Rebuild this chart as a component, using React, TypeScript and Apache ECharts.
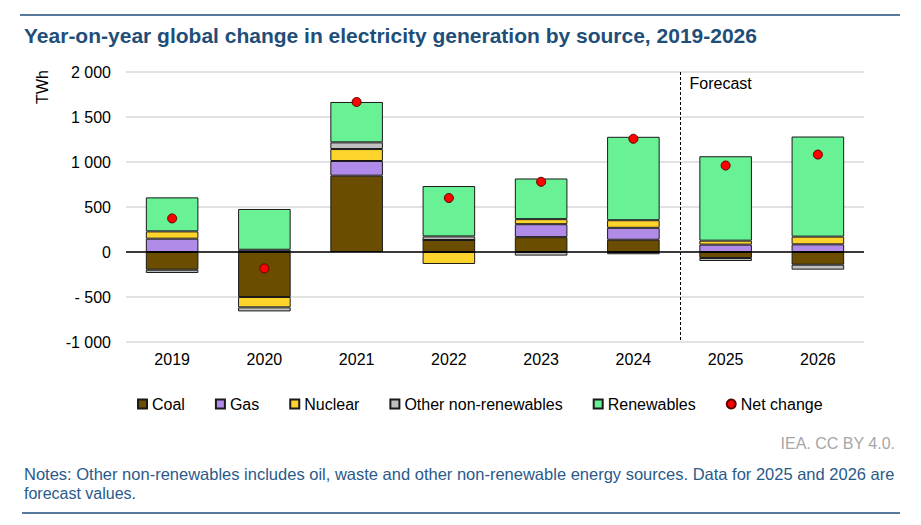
import { useEffect, useRef } from "react";
import * as echarts from "echarts";

const YEARS = ["2019", "2020", "2021", "2022", "2023", "2024", "2025", "2026"];
const COAL = [-197, -500, 848, 133, 165, 136, -67, -141];
const GAS = [148, 25, 163, 0, 144, 133, 82, 85];
const NUCLEAR = [81, -115, 133, -133, 56, 84, 44, 86];
const OTHER = [-36, -45, 74, 40, -40, -25, -33, -55];
const RENEWABLES = [378, 453, 449, 560, 452, 927, 938, 1112];
const NET = [373, -182, 1667, 600, 780, 1258, 961, 1083];

const FONT = "'Liberation Sans', Arial, sans-serif";
const BLUE = "#1f4e79";

// "2 000", "- 500", "-1 000" as in the source
const fmtTick = (v: number) => {
  const abs = Math.abs(v);
  const s = abs >= 1000 ? `${Math.floor(abs / 1000)} ${String(abs % 1000).padStart(3, "0")}` : `${abs}`;
  if (v >= 0) return s;
  return abs < 1000 ? `- ${s}` : `-${s}`;
};

export default function App() {
  const chartRef = useRef<HTMLDivElement>(null);

  useEffect(() => {
    document.body.style.margin = "0";
    if (!chartRef.current) return;
    const chart = echarts.init(chartRef.current, null, { renderer: "svg" });

    const barSeries = (name: string, data: number[], color: string) => ({
      name,
      type: "bar" as const,
      stack: "total",
      data,
      barWidth: "57%",
      itemStyle: { color, borderColor: "#1a1a1a", borderWidth: 1 },
    });

    chart.setOption({
      animation: false,
      grid: { left: 126, right: 57, top: 72, bottom: 183 },
      legend: {
        left: 137,
        top: 396,
        padding: 0,
        itemWidth: 9,
        itemHeight: 9,
        itemGap: 30,
        textStyle: { fontFamily: FONT, fontSize: 16, color: "#000" },
        data: [
          { name: "Coal", icon: "rect" },
          { name: "Gas", icon: "rect" },
          { name: "Nuclear", icon: "rect" },
          { name: "Other non-renewables", icon: "rect" },
          { name: "Renewables", icon: "rect" },
          { name: "Net change", icon: "circle" },
        ],
      },
      xAxis: {
        type: "category",
        data: YEARS,
        axisLine: { show: false },
        axisTick: { show: false },
        axisLabel: { fontFamily: FONT, fontSize: 16, color: "#000", margin: 9 },
      },
      yAxis: {
        type: "value",
        min: -1000,
        max: 2000,
        interval: 500,
        axisLabel: { fontFamily: FONT, fontSize: 16, color: "#000", margin: 15, formatter: fmtTick },
        splitLine: { lineStyle: { color: "#d9d9d9", width: 1.5 } },
      },
      series: [
        {
          ...barSeries("Coal", COAL, "#6b4d00"),
          markLine: {
            silent: true,
            symbol: "none",
            label: { show: false },
            lineStyle: { color: "#000", width: 1.5, type: "solid" },
            data: [{ yAxis: 0 }],
          },
        },
        barSeries("Gas", GAS, "#b18be8"),
        barSeries("Nuclear", NUCLEAR, "#fdd42c"),
        barSeries("Other non-renewables", OTHER, "#c0c0c0"),
        barSeries("Renewables", RENEWABLES, "#69f195"),
        {
          name: "Net change",
          type: "scatter",
          data: NET,
          symbolSize: 9,
          z: 5,
          itemStyle: { color: "#ff0000", borderColor: "#5a0000", borderWidth: 1, opacity: 1 },
        },
      ],
    });

    // forecast divider between 2024 and 2025
    const x24 = chart.convertToPixel({ xAxisIndex: 0 }, 5) as number;
    const x25 = chart.convertToPixel({ xAxisIndex: 0 }, 6) as number;
    const fx = Math.round((x24 + x25) / 2) + 0.5;

    chart.setOption({
      graphic: [
        { type: "line", shape: { x1: 20, y1: 15, x2: 900, y2: 15 }, style: { stroke: BLUE, lineWidth: 1.5 } },
        {
          type: "text",
          x: 24,
          y: 35,
          style: {
            text: "Year-on-year global change in electricity generation by source, 2019-2026",
            font: `bold 21px ${FONT}`,
            fill: BLUE,
            verticalAlign: "middle",
          },
        },
        {
          type: "text",
          x: 42,
          y: 87,
          rotation: Math.PI / 2,
          style: { text: "TWh", font: `16px ${FONT}`, fill: "#000", align: "center", verticalAlign: "middle" },
        },
        {
          type: "line",
          shape: { x1: fx, y1: 72, x2: fx, y2: 342 },
          style: { stroke: "#000", lineWidth: 1, lineDash: [3, 2] },
          z: 10,
        },
        {
          type: "text",
          x: fx + 9,
          y: 83,
          style: { text: "Forecast", font: `16px ${FONT}`, fill: "#000", verticalAlign: "middle" },
        },
        {
          type: "text",
          x: 895,
          y: 443,
          style: { text: "IEA. CC BY 4.0.", font: `16px ${FONT}`, fill: "#a6a6a6", align: "right", verticalAlign: "middle" },
        },
        {
          type: "text",
          x: 24,
          y: 474,
          style: {
            text: "Notes: Other non-renewables includes oil, waste and other non-renewable energy sources. Data for 2025 and 2026 are",
            font: `16.5px ${FONT}`,
            fill: "#2a5a8a",
            verticalAlign: "middle",
          },
        },
        {
          type: "text",
          x: 24,
          y: 493,
          style: { text: "forecast values.", font: `16px ${FONT}`, fill: "#2a5a8a", verticalAlign: "middle" },
        },
        { type: "line", shape: { x1: 22, y1: 513, x2: 900, y2: 513 }, style: { stroke: BLUE, lineWidth: 1.5 } },
      ],
    });

    return () => {
      chart.dispose();
    };
  }, []);

  return <div ref={chartRef} style={{ width: "921px", height: "525px" }} />;
}
